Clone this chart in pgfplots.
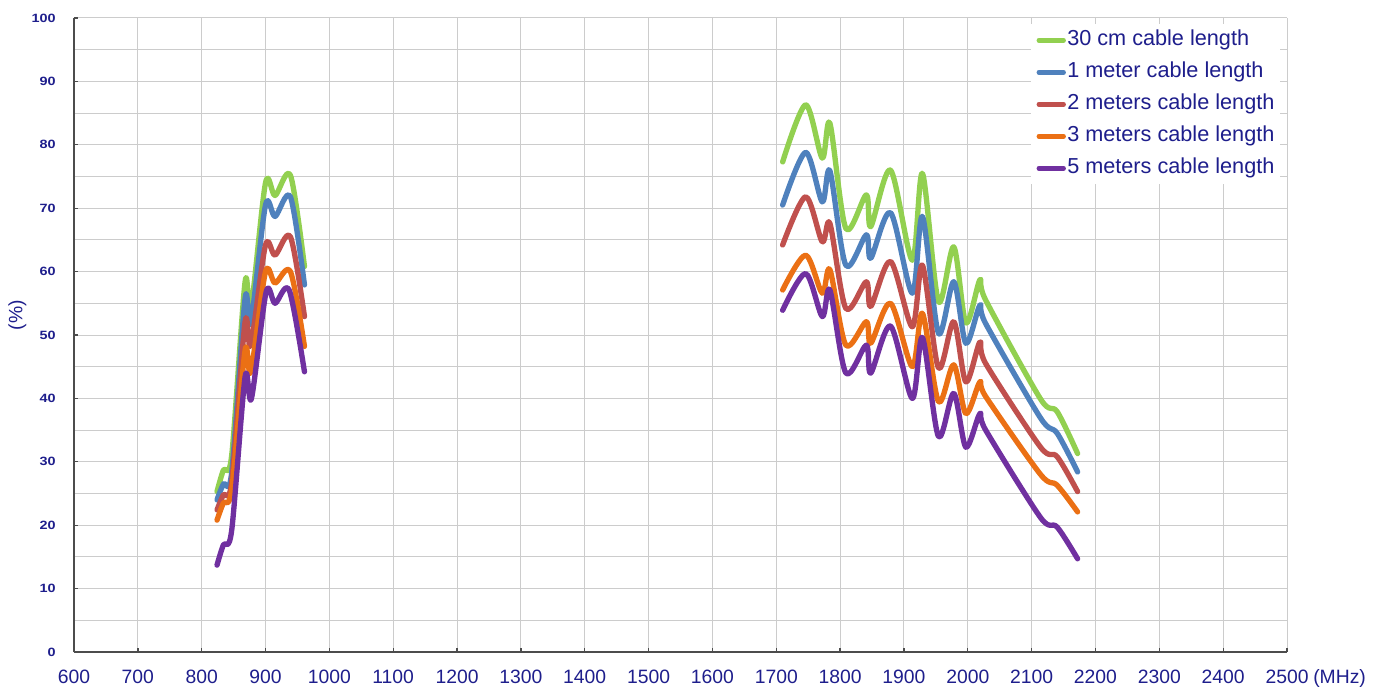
\documentclass[border=0pt]{standalone}
\usepackage{fontspec}
\setmainfont{Liberation Sans}
\usepackage{graphicx}
\usepackage{pgfplots}
\pgfplotsset{compat=1.18}
\definecolor{txt}{HTML}{1E1E8C}
\definecolor{cgreen}{HTML}{92D050}
\definecolor{cblue}{HTML}{4F81BD}
\definecolor{cred}{HTML}{C0504D}
\definecolor{corange}{HTML}{EB7014}
\definecolor{cpurple}{HTML}{7030A0}
\begin{document}
\begin{tikzpicture}
\useasboundingbox (-55.5pt,-26.25pt) rectangle (979.5pt,489pt);
\begin{axis}[
  scale only axis, width=909.75pt, height=475.5pt,
  xmin=600, xmax=2500, ymin=0, ymax=100,
  xtick={600,700,...,2500}, ytick={0,10,...,100}, minor ytick={5,15,...,95},
  grid=both,
  grid style={draw=black!20, line width=0.75pt},
  minor grid style={draw=black!20, line width=0.75pt},
  axis x line*=bottom, axis y line*=left,
  axis line style={draw=black!70, line width=1.1pt, -},
  tick align=inside, major tick length=3pt, minor tick length=0pt,
  major tick style={draw=black!70, line width=1pt},
  /pgf/number format/assume math mode=true, /pgf/number format/1000 sep={},
  xticklabel style={font=\fontsize{14.5}{16}\selectfont, text=txt, anchor=base, inner sep=0pt, yshift=-23.25pt},
  yticklabel={\scalebox{1.2}[1]{\bfseries\pgfmathprintnumber{\tick}}},
  yticklabel style={font=\fontsize{9}{10}\selectfont, text=txt, anchor=east, inner sep=0pt, xshift=-13.5pt},
  xlabel={(MHz)},
  xlabel style={font=\fontsize{14.5}{16}\selectfont, text=txt, at={(axis description cs:1,0)}, anchor=base west, inner sep=0pt, xshift=19.5pt, yshift=-23.25pt},
  ylabel={(\%)},
  ylabel style={font=\fontsize{14.5}{16}\selectfont, text=txt, at={(axis description cs:0,0.531)}, anchor=center, inner sep=0pt, yshift=42.5pt},
  every axis plot/.append style={line width=4pt, smooth, line cap=round, line join=round, no markers},
  legend cell align=left,
  legend image code/.code={\draw[line width=3.5pt, line cap=round] (0pt,0pt) -- (18.5pt,0pt);},
  legend style={at={(1,1)}, anchor=north east, xshift=-5.25pt, yshift=-4.5pt, draw=none, fill=white, inner sep=4pt,
    font=\fontsize{16.25}{19}\selectfont, text=txt, row sep=8pt,
    nodes={inner sep=0pt, text height=12pt, text depth=4pt},
    /tikz/every odd column/.append style={column sep=1pt}},
]
% ---- 800-1000 MHz band ----
\addplot[cgreen] coordinates {(824,25.3) (834,28.7) (847,31.0) (868,58.4) (877,54.0) (900,74.0) (915,72.0) (939,75.2) (961,60.8)};
\addlegendentry{30 cm cable length}
\addplot[cblue] coordinates {(824,24.0) (834,26.5) (847,28.3) (868,55.8) (877,51.9) (900,70.5) (915,68.7) (939,71.8) (961,57.9)};
\addlegendentry{1 meter cable length}
\addplot[cred] coordinates {(824,22.4) (834,24.8) (847,26.8) (868,52.1) (877,48.4) (900,64.2) (915,62.6) (939,65.5) (961,52.9)};
\addlegendentry{2 meters cable length}
\addplot[corange] coordinates {(824,20.8) (834,23.5) (847,25.6) (868,47.6) (877,44.2) (900,60.0) (915,58.2) (939,60.0) (961,48.2)};
\addlegendentry{3 meters cable length}
\addplot[cpurple] coordinates {(824,13.7) (834,16.9) (847,19.2) (868,43.4) (878,40.0) (901,56.8) (915,55.0) (937,57.1) (961,44.2)};
\addlegendentry{5 meters cable length}
% ---- 1700-2200 MHz band ----
\addplot[cgreen, forget plot] coordinates {(1710,77.3) (1746,86.3) (1772,77.9) (1784,83.4) (1809,66.8) (1841,72.1) (1848,67.1) (1879,76.0) (1913,61.8) (1929,75.5) (1954,55.3) (1978,63.9) (1997,51.9) (2019,58.7) (2028,55.5) (2114,39.9) (2140,37.9) (2172,31.3)};
\addplot[cblue, forget plot] coordinates {(1710,70.5) (1746,78.8) (1772,71.0) (1784,75.9) (1809,61.0) (1841,65.8) (1848,62.1) (1879,69.3) (1913,56.6) (1929,68.7) (1954,50.3) (1978,58.4) (1997,48.7) (2019,54.7) (2028,51.8) (2114,36.9) (2140,34.5) (2172,28.4)};
\addplot[cred, forget plot] coordinates {(1710,64.2) (1746,71.8) (1772,64.7) (1784,67.6) (1809,54.2) (1841,58.4) (1848,54.5) (1879,61.6) (1913,51.3) (1929,61.0) (1954,44.8) (1978,52.1) (1997,42.6) (2019,48.9) (2028,45.5) (2114,32.3) (2140,30.8) (2172,25.3)};
\addplot[corange, forget plot] coordinates {(1710,57.1) (1746,62.6) (1772,56.6) (1784,60.3) (1809,48.4) (1841,52.1) (1848,48.7) (1879,55.0) (1913,45.0) (1929,53.4) (1954,39.5) (1978,45.3) (1997,37.6) (2019,42.6) (2028,40.3) (2114,28.0) (2140,26.3) (2172,22.1)};
\addplot[cpurple, forget plot] coordinates {(1710,53.9) (1746,59.7) (1772,52.9) (1784,57.1) (1809,44.0) (1841,48.4) (1848,44.0) (1879,51.4) (1913,40.0) (1929,49.6) (1954,34.0) (1978,40.8) (1997,32.3) (2019,37.6) (2028,35.0) (2114,21.2) (2140,19.7) (2172,14.7)};
\end{axis}
\end{tikzpicture}
\end{document}
